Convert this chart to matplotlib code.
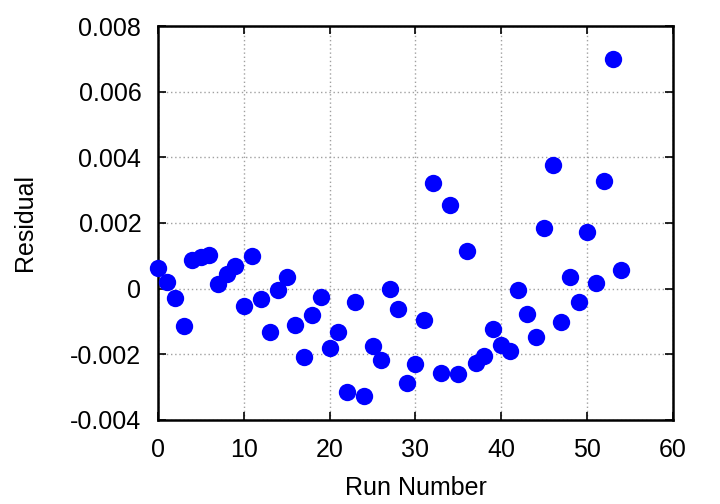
import matplotlib
matplotlib.use("Agg")
import matplotlib.pyplot as plt
from matplotlib.ticker import FuncFormatter, MultipleLocator

# residuals per run
run = list(range(55))
residual = [
    0.00063, 0.00020, -0.00027, -0.00114, 0.00087, 0.00096, 0.00102, 0.00015, 0.00046, 0.00068,
    -0.00054, 0.00099, -0.00030, -0.00133, -0.00005, 0.00035, -0.00112, -0.00209, -0.00081, -0.00025,
    -0.00181, -0.00131, -0.00315, -0.00040, -0.00328, -0.00175, -0.00216, -0.00002, -0.00062, -0.00287,
    -0.00228, -0.00094, 0.00321, -0.00258, 0.00254, -0.00260, 0.00115, -0.00227, -0.00204, -0.00123,
    -0.00171, -0.00190, -0.00005, -0.00077, -0.00147, 0.00184, 0.00377, -0.00101, 0.00035, -0.00041,
    0.00173, 0.00017, 0.00328, 0.00699, 0.00056,
]

plt.rcParams['font.family'] = ['Liberation Sans', 'DejaVu Sans']
plt.rcParams['axes.unicode_minus'] = False

fig = plt.figure(figsize=(7.2, 5.04), dpi=100)
ax = fig.add_axes([0.2194, 0.1667, 0.7153, 0.7817])

ax.plot(run, residual, 'o', color='#0000ff', markersize=12.5, markeredgewidth=0, clip_on=False, zorder=3)

ax.set_xlim(0, 60)
ax.set_ylim(-0.004, 0.008)
ax.xaxis.set_major_locator(MultipleLocator(10))
ax.yaxis.set_major_locator(MultipleLocator(0.002))
ax.yaxis.set_major_formatter(FuncFormatter(lambda v, p: f"{round(v, 3):g}"))

ax.grid(True, color='#a0a0a0', linestyle=(0, (1, 2)), linewidth=1)
ax.tick_params(direction='in', length=6, width=1.2, top=True, right=True, labelsize=18)
ax.tick_params(axis='y', pad=12)
ax.tick_params(axis='x', pad=13)
for s in ax.spines.values():
    s.set_linewidth(1.8)

ax.set_xlabel('Run Number', fontsize=18, labelpad=10)
ax.set_ylabel('Residual', fontsize=18, labelpad=24)

fig.savefig('out.png', dpi=100)
